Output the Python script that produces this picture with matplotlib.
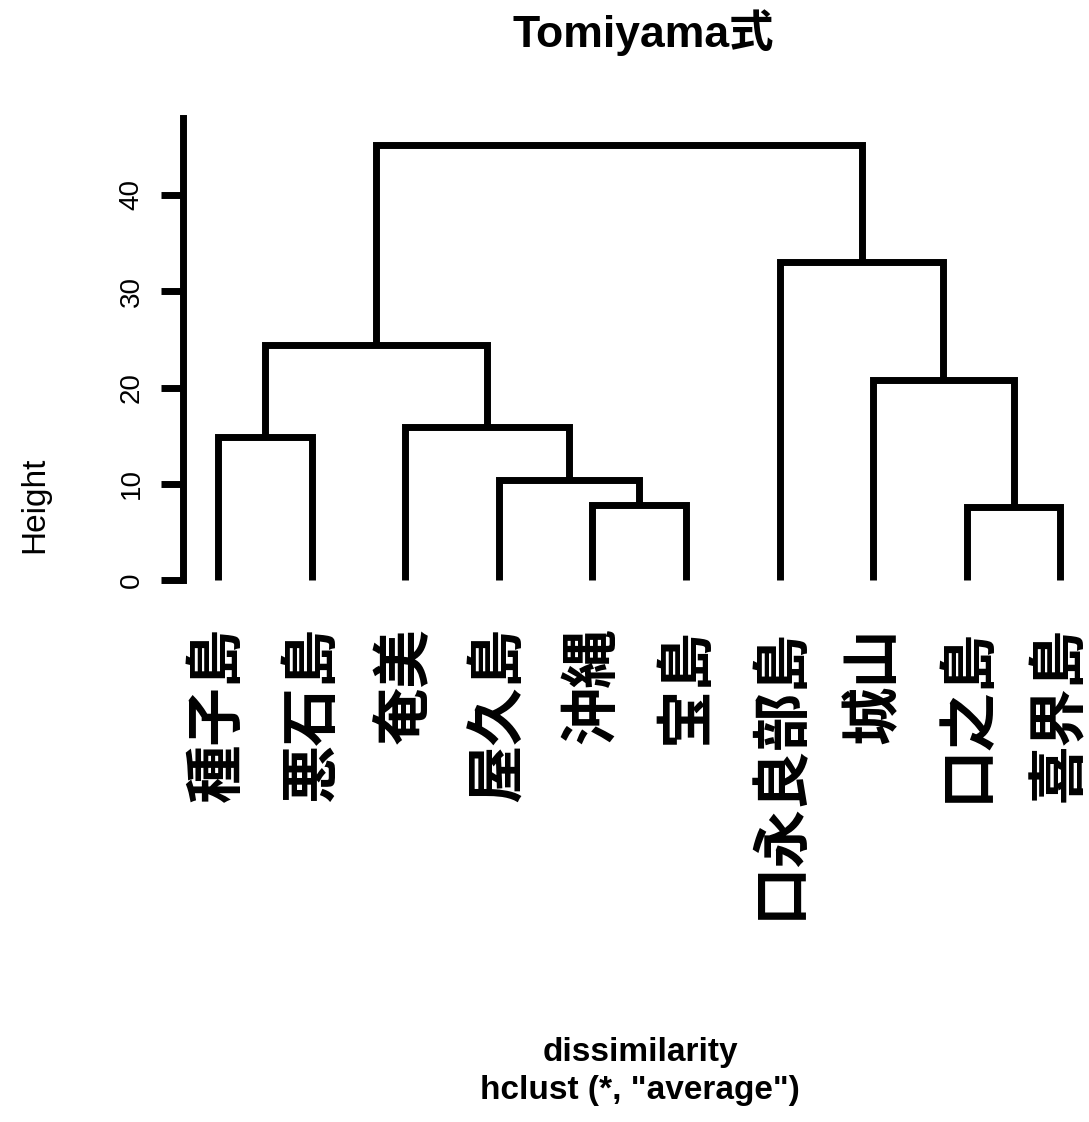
import matplotlib
matplotlib.use("Agg")
import matplotlib.pyplot as plt

labels = ["種子島", "悪石島", "奄美", "屋久島", "沖縄", "宝島",
          "口永良部島", "城山", "口之島", "喜界島"]
# R-style merge matrix: negative = leaf index (1-based), positive = earlier merge
merge_a = [-5, -9, -4, -1, -3, -8, 4, -7, 7]
merge_b = [-6, -10, 1, -2, 3, 2, 5, 6, 8]
merge_h = [7.8, 7.6, 10.4, 14.9, 15.9, 20.8, 24.4, 33.0, 45.2]
yticks = [0, 10, 20, 30, 40]

W, H = 1089, 1122
fig = plt.figure(figsize=(W / 100, H / 100), dpi=100)
left_px, right_px = 183, 1085
bot_px, top_px = 580, 118
ax = fig.add_axes([left_px / W, 1 - bot_px / H, (right_px - left_px) / W, (bot_px - top_px) / H])

spacing = 93.6
x_left = 1 - (218 - left_px) / spacing
x_right = 1 + (right_px - 218) / spacing
ax.set_xlim(x_left, x_right)
ax.set_ylim(0, 48)

lw = 5.0
pos = {}
hgt = {}

def node(i):
    if i < 0:
        return float(-i), 0.0
    return pos[i], hgt[i]

for k, (a, b, h) in enumerate(zip(merge_a, merge_b, merge_h), start=1):
    xa, ya = node(a)
    xb, yb = node(b)
    ax.plot([xa, xa, xb, xb], [ya, h, h, yb], color="black", lw=lw,
            solid_joinstyle="miter", solid_capstyle="butt", clip_on=False)
    pos[k] = (xa + xb) / 2
    hgt[k] = h

for i, lab in enumerate(labels, start=1):
    ax.annotate(lab, xy=(i, 0), xytext=(0, -34), textcoords="offset points",
                rotation=90, ha="center", va="top", fontsize=42,
                family=["Noto Sans CJK JP", "DejaVu Sans"], fontweight="bold")

for s in ["top", "right", "bottom"]:
    ax.spines[s].set_visible(False)
ax.spines["left"].set_linewidth(lw)
ax.spines["left"].set_bounds(0, 48)
ax.set_xticks([])
ax.set_yticks(yticks)
ax.set_yticklabels([str(t) for t in yticks], rotation=90, va="center",
                   fontsize=20, family="Liberation Sans")
ax.tick_params(axis="y", direction="out", length=15.5, width=lw, pad=12)

fig.text(35 / W, 1 - 505 / H, "Height", rotation=90, ha="center", va="center",
         fontsize=24, family="Liberation Sans")
fig.text(643 / W, 1 - 33 / H, "Tomiyama式", ha="center", va="center",
         fontsize=32, fontweight="bold", family=["Liberation Sans", "Noto Sans CJK JP"])
fig.text(640 / W, 1 - 1053 / H, "dissimilarity", ha="center", va="center",
         fontsize=24, fontweight="bold", family="Liberation Sans")
fig.text(640 / W, 1 - 1091 / H, 'hclust (*, "average")', ha="center", va="center",
         fontsize=24, fontweight="bold", family="Liberation Sans")

fig.savefig("out.png", dpi=100)
